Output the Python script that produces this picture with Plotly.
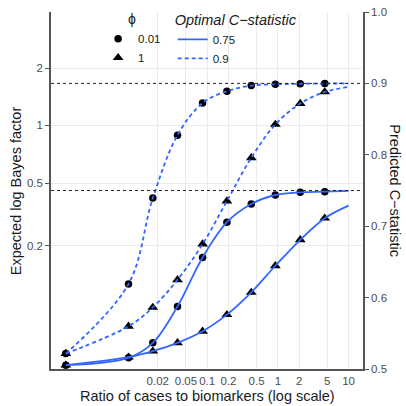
import math
import plotly.graph_objects as go

# ---- data ----
ratio = [0.001, 0.0077, 0.017, 0.038, 0.086, 0.19, 0.42, 0.92, 2.07, 4.6]
ratio_line_end = 10

# predicted C-statistic (right axis units)
c75_phi001 = [0.5053, 0.5156, 0.5366, 0.5877, 0.6561, 0.7056, 0.7311, 0.7437, 0.7475, 0.7483]
c90_phi001 = [0.5216, 0.6190, 0.7395, 0.8275, 0.8726, 0.8890, 0.8969, 0.8987, 0.8995, 0.8998]
c75_phi1 = [0.5053, 0.5165, 0.5249, 0.5366, 0.5528, 0.5761, 0.6073, 0.6446, 0.6809, 0.7112]
c90_phi1 = [0.5216, 0.5598, 0.5863, 0.6250, 0.6749, 0.7353, 0.7958, 0.8425, 0.8718, 0.8880]
line_end = {"c75_phi001": 0.7495, "c90_phi001": 0.9000, "c75_phi1": 0.7288, "c90_phi1": 0.8950}

optimal_c = [0.75, 0.9]
optimal_c_labels = ["0.75", "0.9"]
phi_labels = ["0.01", "1"]

x_tick_vals = [0.02, 0.05, 0.1, 0.2, 0.5, 1, 2, 5, 10]
x_tick_text = ["0.02", "0.05", "0.1", "0.2", "0.5", "1", "2", "5", "10"]
lbf_ticks = [2, 1, 0.5, 0.2]
lbf_tick_text = ["2", "1", "0.5", "0.2"]
c_ticks = [0.5, 0.6, 0.7, 0.8, 0.9, 1.0]
c_tick_text = ["0.5", "0.6", "0.7", "0.8", "0.9", "1.0"]


def c_from_lbf(l):
    # expected log Bayes factor -> C-statistic: C = Phi(sqrt(lbf))
    return 0.5 * (1 + math.erf(math.sqrt(l) / math.sqrt(2)))


BLUE = "#3366FF"
FONT = "Liberation Sans, Arial, Helvetica, sans-serif"
TICKCOL = "#4d4d4d"
GRID = "#ebebeb"

fig = go.Figure()

# points (phi legend)
fig.add_trace(go.Scatter(
    x=ratio + ratio, y=c75_phi001 + c90_phi001, mode="markers",
    marker=dict(symbol="circle", size=7.5, color="black"),
    name=phi_labels[0], legend="legend", yaxis="y"))
fig.add_trace(go.Scatter(
    x=ratio + ratio, y=c75_phi1 + c90_phi1, mode="markers",
    marker=dict(symbol="triangle-up", size=9.5, color="black"),
    name=phi_labels[1], legend="legend", yaxis="y"))

# curves (optimal C legend)
curves = [
    (c75_phi001, line_end["c75_phi001"], "solid", 0, True),
    (c75_phi1, line_end["c75_phi1"], "solid", 0, False),
    (c90_phi001, line_end["c90_phi001"], "4px,3px", 1, True),
    (c90_phi1, line_end["c90_phi1"], "4px,3px", 1, False),
]
for ys, yend, dash, k, show in curves:
    fig.add_trace(go.Scatter(
        x=ratio + [ratio_line_end], y=ys + [yend], mode="lines",
        line=dict(color=BLUE, width=1.8, dash=dash, shape="spline"),
        name=optimal_c_labels[k], legendgroup=optimal_c_labels[k],
        showlegend=show, legend="legend2", yaxis="y"))

# dotted reference lines at optimal C
for c in optimal_c:
    fig.add_shape(type="line", xref="paper", x0=0, x1=1, yref="y", y0=c, y1=c,
                  line=dict(color="#222222", width=1, dash="dot"), layer="above")

fig.update_layout(
    width=406, height=406,
    margin=dict(l=51, r=43, t=12, b=37, pad=0, autoexpand=False),
    plot_bgcolor="white", paper_bgcolor="white",
    font=dict(family=FONT, size=12, color="#1a1a1a"),
    xaxis=dict(type="log", range=[-3.21, 1.204], tickvals=x_tick_vals, ticktext=x_tick_text,
               showgrid=True, gridcolor=GRID, gridwidth=1, zeroline=False,
               showline=True, linecolor="#555555", linewidth=1.5, ticks="",
               tickfont=dict(size=11.5, color=TICKCOL)),
    yaxis=dict(range=[0.5, 1.0], tickvals=[c_from_lbf(v) for v in lbf_ticks], ticktext=lbf_tick_text,
               showgrid=True, gridcolor=GRID, gridwidth=1, zeroline=False,
               showline=True, linecolor="#555555", linewidth=1.5,
               ticks="outside", ticklen=4, tickcolor="#555555",
               tickfont=dict(size=11.5, color=TICKCOL)),
    yaxis2=dict(range=[0.5, 1.0], tickvals=c_ticks, ticktext=c_tick_text, overlaying="y", side="right",
                showgrid=False, zeroline=False, showline=True, linecolor="#555555", linewidth=1.5,
                ticks="outside", ticklen=4, tickcolor="#555555",
                tickfont=dict(size=11.5, color=TICKCOL)),
    legend=dict(title=dict(text="ϕ", side="top center", font=dict(size=14)),
                x=0.151, y=1.017, xanchor="left", yanchor="top", bgcolor="rgba(0,0,0,0)",
                font=dict(size=11.5), itemwidth=30, tracegroupgap=0),
    legend2=dict(title=dict(text="<i>Optimal C−statistic</i>", side="top", font=dict(size=14.5)),
                 x=0.39, y=1.017, xanchor="left", yanchor="top", bgcolor="rgba(0,0,0,0)",
                 font=dict(size=11.5), itemwidth=30, tracegroupgap=0),
    annotations=[
        dict(text="Ratio of cases to biomarkers (log scale)", xref="paper", yref="paper",
             x=0.5, y=-0.076, xanchor="center", yanchor="middle", showarrow=False,
             font=dict(size=14.5)),
        dict(text="Expected log Bayes factor", xref="paper", yref="paper",
             x=-0.113, y=0.5, xanchor="center", yanchor="middle", showarrow=False,
             textangle=-90, font=dict(size=14.5)),
        dict(text="Predicted C−statistic", xref="paper", yref="paper",
             x=1.103, y=0.5, xanchor="center", yanchor="middle", showarrow=False,
             textangle=90, font=dict(size=14.5)),
    ],
)
# invisible trace so the right axis renders
fig.add_trace(go.Scatter(x=[ratio[0]], y=[c_ticks[0]], yaxis="y2", mode="markers",
                         marker=dict(opacity=0), showlegend=False, hoverinfo="skip"))

fig.write_html("out.html")
